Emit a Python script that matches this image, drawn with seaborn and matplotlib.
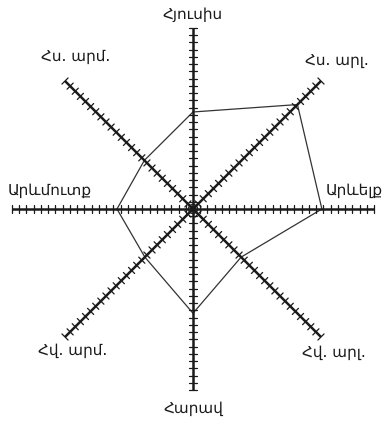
import numpy as np
import pandas as pd
import matplotlib
matplotlib.use("Agg")
import matplotlib.pyplot as plt
import seaborn as sns

# Data
directions = ["Հյուսիս", "Հս. արլ.", "Արևելք", "Հվ. արլ.", "Հարավ", "Հվ. արմ.", "Արևմուտք", "Հս. արմ."]
angles_deg = [90, 45, 0, -45, -90, -135, 180, 135]
values = [13.4, 20.4, 17.8, 9.4, 14.4, 9.4, 10.5, 9.5]
axis_max = 25
tick_values = list(range(1, 26))

sns.set_theme(style="white")
plt.rcParams['font.family'] = ['DejaVu Sans']

fig = plt.figure(figsize=(3.84, 4.23), dpi=100)
ax = fig.add_axes([0, 0, 1, 1])
s = 7.24
ax.set_xlim(-193 / s, (384 - 193) / s)
ax.set_ylim(-214 / s, 209 / s)
ax.set_aspect("equal")
ax.axis("off")

# axes with ticks
tick_half = 0.6
for a in angles_deg:
    th = np.deg2rad(a)
    ux, uy = np.cos(th), np.sin(th)
    px, py = -uy, ux
    ax.plot([0, axis_max * ux], [0, axis_max * uy], color="#1a1a1a", lw=1.8, zorder=3, solid_capstyle="butt")
    for t in tick_values:
        cx, cy = t * ux, t * uy
        ax.plot([cx - tick_half * px, cx + tick_half * px], [cy - tick_half * py, cy + tick_half * py],
                color="#1a1a1a", lw=0.9, zorder=3)

# centre ring
ax.add_patch(plt.Circle((0, 0), 0.62, fill=False, ec="#1a1a1a", lw=1.0, zorder=4))
ax.add_patch(plt.Circle((0, 0), 0.35, color="#1a1a1a", zorder=4))

# data polygon
th = np.deg2rad(angles_deg + [angles_deg[0]])
vals = values + [values[0]]
df = pd.DataFrame({"x": np.array(vals) * np.cos(th), "y": np.array(vals) * np.sin(th),
                   "order": range(len(vals))})
sns.lineplot(data=df, x="x", y="y", sort=False, estimator=None, color="#333333", lw=0.9, ax=ax, zorder=2)
ax.set_xlabel("")
ax.set_ylabel("")
ax.axis("off")

# labels (pixel positions converted to data units)
def px2d(x, y):
    return (x - 193) / s, (209 - y) / s

label_pos = {
    "Հյուսիս": (193, 14, "center"),
    "Հս. արլ.": (337, 61, "center"),
    "Արևելք": (383, 190, "right"),
    "Հվ. արլ.": (334, 352, "center"),
    "Հարավ": (193, 408, "center"),
    "Հվ. արմ.": (73, 351, "center"),
    "Արևմուտք": (8, 190, "left"),
    "Հս. արմ.": (76, 56, "center"),
}
for name in directions:
    x, y, ha = label_pos[name]
    dx, dy = px2d(x, y)
    ax.text(dx, dy, name, ha=ha, va="center", fontsize=11, color="#1a1a1a")

fig.savefig("out.png", dpi=100, facecolor="white")
